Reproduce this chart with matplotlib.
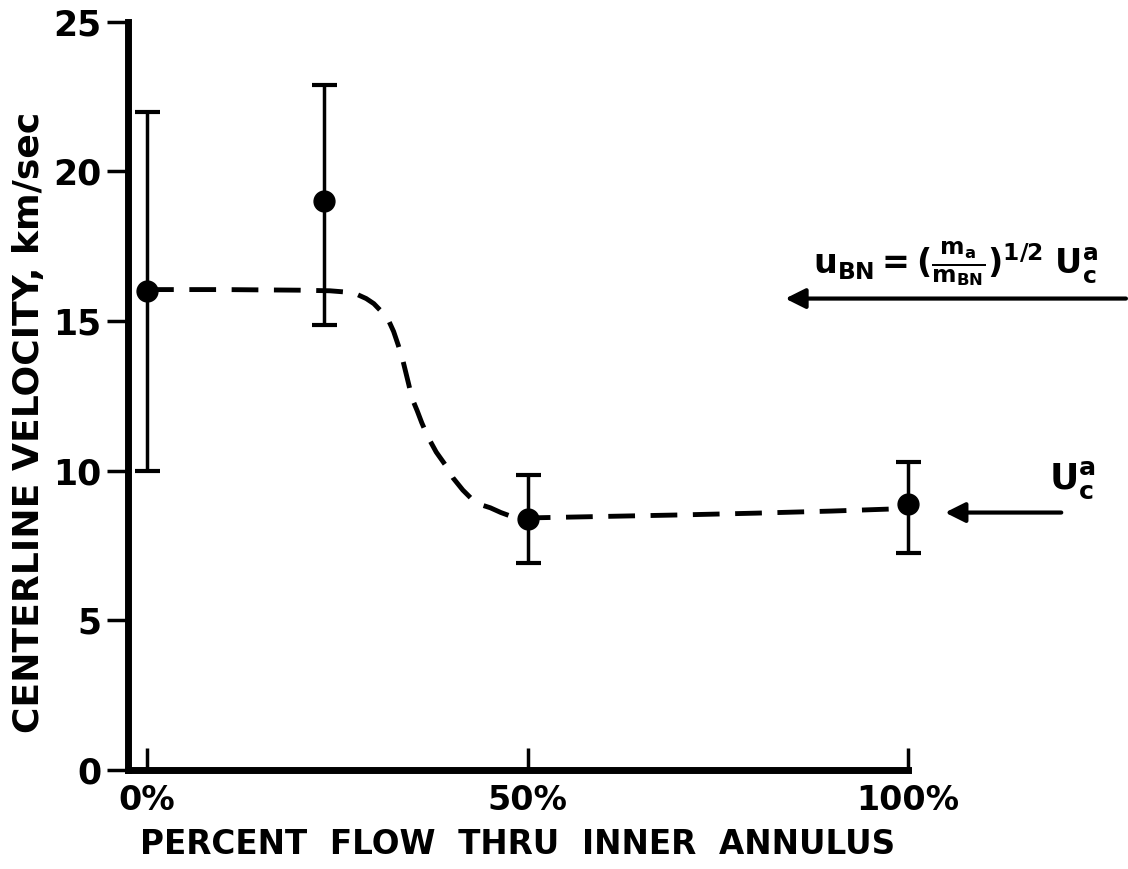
import numpy as np
import matplotlib.pyplot as plt

# measured points (percent flow, centerline velocity km/sec)
pct = [0, 23.3, 50, 100]
vel = [16.0, 19.0, 8.4, 8.9]
err_lo = [6.0, 4.15, 1.5, 1.65]
err_hi = [6.0, 3.9, 1.45, 1.4]

# hand drawn trend curve
curve_x = [0, 10, 20, 24, 26, 27.5, 28.8, 29.8, 30.6, 31.7, 32.4, 33.0, 33.6, 34.4, 34.8,
           35.5, 36.1, 36.9, 38.0, 39.2, 40.2, 41.5, 42.8, 44.0, 45.1, 46.5, 48.0, 50,
           60, 70, 80, 90, 98]
curve_y = [16.05, 16.05, 16.03, 16.01, 15.97, 15.9, 15.75, 15.58, 15.37, 15.04, 14.65, 14.20,
           13.70, 12.87, 12.43, 12.0, 11.60, 11.13, 10.62, 10.19, 9.76, 9.35, 9.02, 8.85,
           8.76, 8.6, 8.46, 8.42, 8.47, 8.52, 8.58, 8.65, 8.72]

yticks = [0, 5, 10, 15, 20, 25]
xticks = [0, 50, 100]
xticklabels = ['0%', '50%', '100%']

u_bn_level = 15.75
u_c_level = 8.6

plt.rcParams['font.family'] = ['DejaVu Sans']

fig = plt.figure(figsize=(11.28, 8.69), dpi=100)
ax = fig.add_axes([0.1135, 0.114, 0.6915, 0.861])

ax.plot(curve_x, curve_y, color='black', lw=3.5, dashes=(5.5, 3.2), zorder=2)
eb = ax.errorbar(pct, vel, yerr=[err_lo, err_hi], fmt='o', color='black', ms=15,
                 elinewidth=2.5, capsize=9, capthick=3, zorder=3)
for a in eb.lines[1] + eb.lines[2] + (eb.lines[0],):
    a.set_clip_on(False)

ax.set_xlim(-2.5, 100)
ax.set_ylim(0, 25)
ax.set_xticks(xticks)
ax.set_xticklabels(xticklabels)
ax.set_yticks(yticks)

for s in ['top', 'right']:
    ax.spines[s].set_visible(False)
ax.spines['left'].set_linewidth(5)
ax.spines['bottom'].set_linewidth(5)
ax.tick_params(axis='y', direction='out', length=15, width=2.5, labelsize=25, pad=4)
ax.tick_params(axis='x', direction='in', length=16, width=2.5, labelsize=24, pad=10)
for lab in ax.get_xticklabels() + ax.get_yticklabels():
    lab.set_fontweight('bold')

ax.set_xlabel('PERCENT  FLOW  THRU  INNER  ANNULUS', fontsize=23.5, fontweight='bold')
ax.xaxis.set_label_coords(0.5, -0.078)
ax.set_ylabel('CENTERLINE VELOCITY, km/sec', fontsize=26, fontweight='bold')
ax.yaxis.set_label_coords(-0.105, 0.465)

# annotation arrows on the right
ax.annotate('', xy=(83.5, u_bn_level), xytext=(129, u_bn_level),
            arrowprops=dict(arrowstyle='-|>', color='black', lw=3, mutation_scale=30),
            annotation_clip=False)
ax.text(125, u_bn_level + 0.35,
        r'$\mathbf{u_{BN}=(\frac{m_a}{m_{BN}})^{1/2}\ U_c^a}$',
        fontsize=24, ha='right', va='bottom', clip_on=False)

ax.annotate('', xy=(104.5, u_c_level), xytext=(120.5, u_c_level),
            arrowprops=dict(arrowstyle='-|>', color='black', lw=3, mutation_scale=30),
            annotation_clip=False)
ax.text(118.5, u_c_level + 0.4, r'$\mathbf{U_c^a}$', fontsize=26,
        ha='left', va='bottom', clip_on=False)

fig.savefig('out.png', dpi=100)
